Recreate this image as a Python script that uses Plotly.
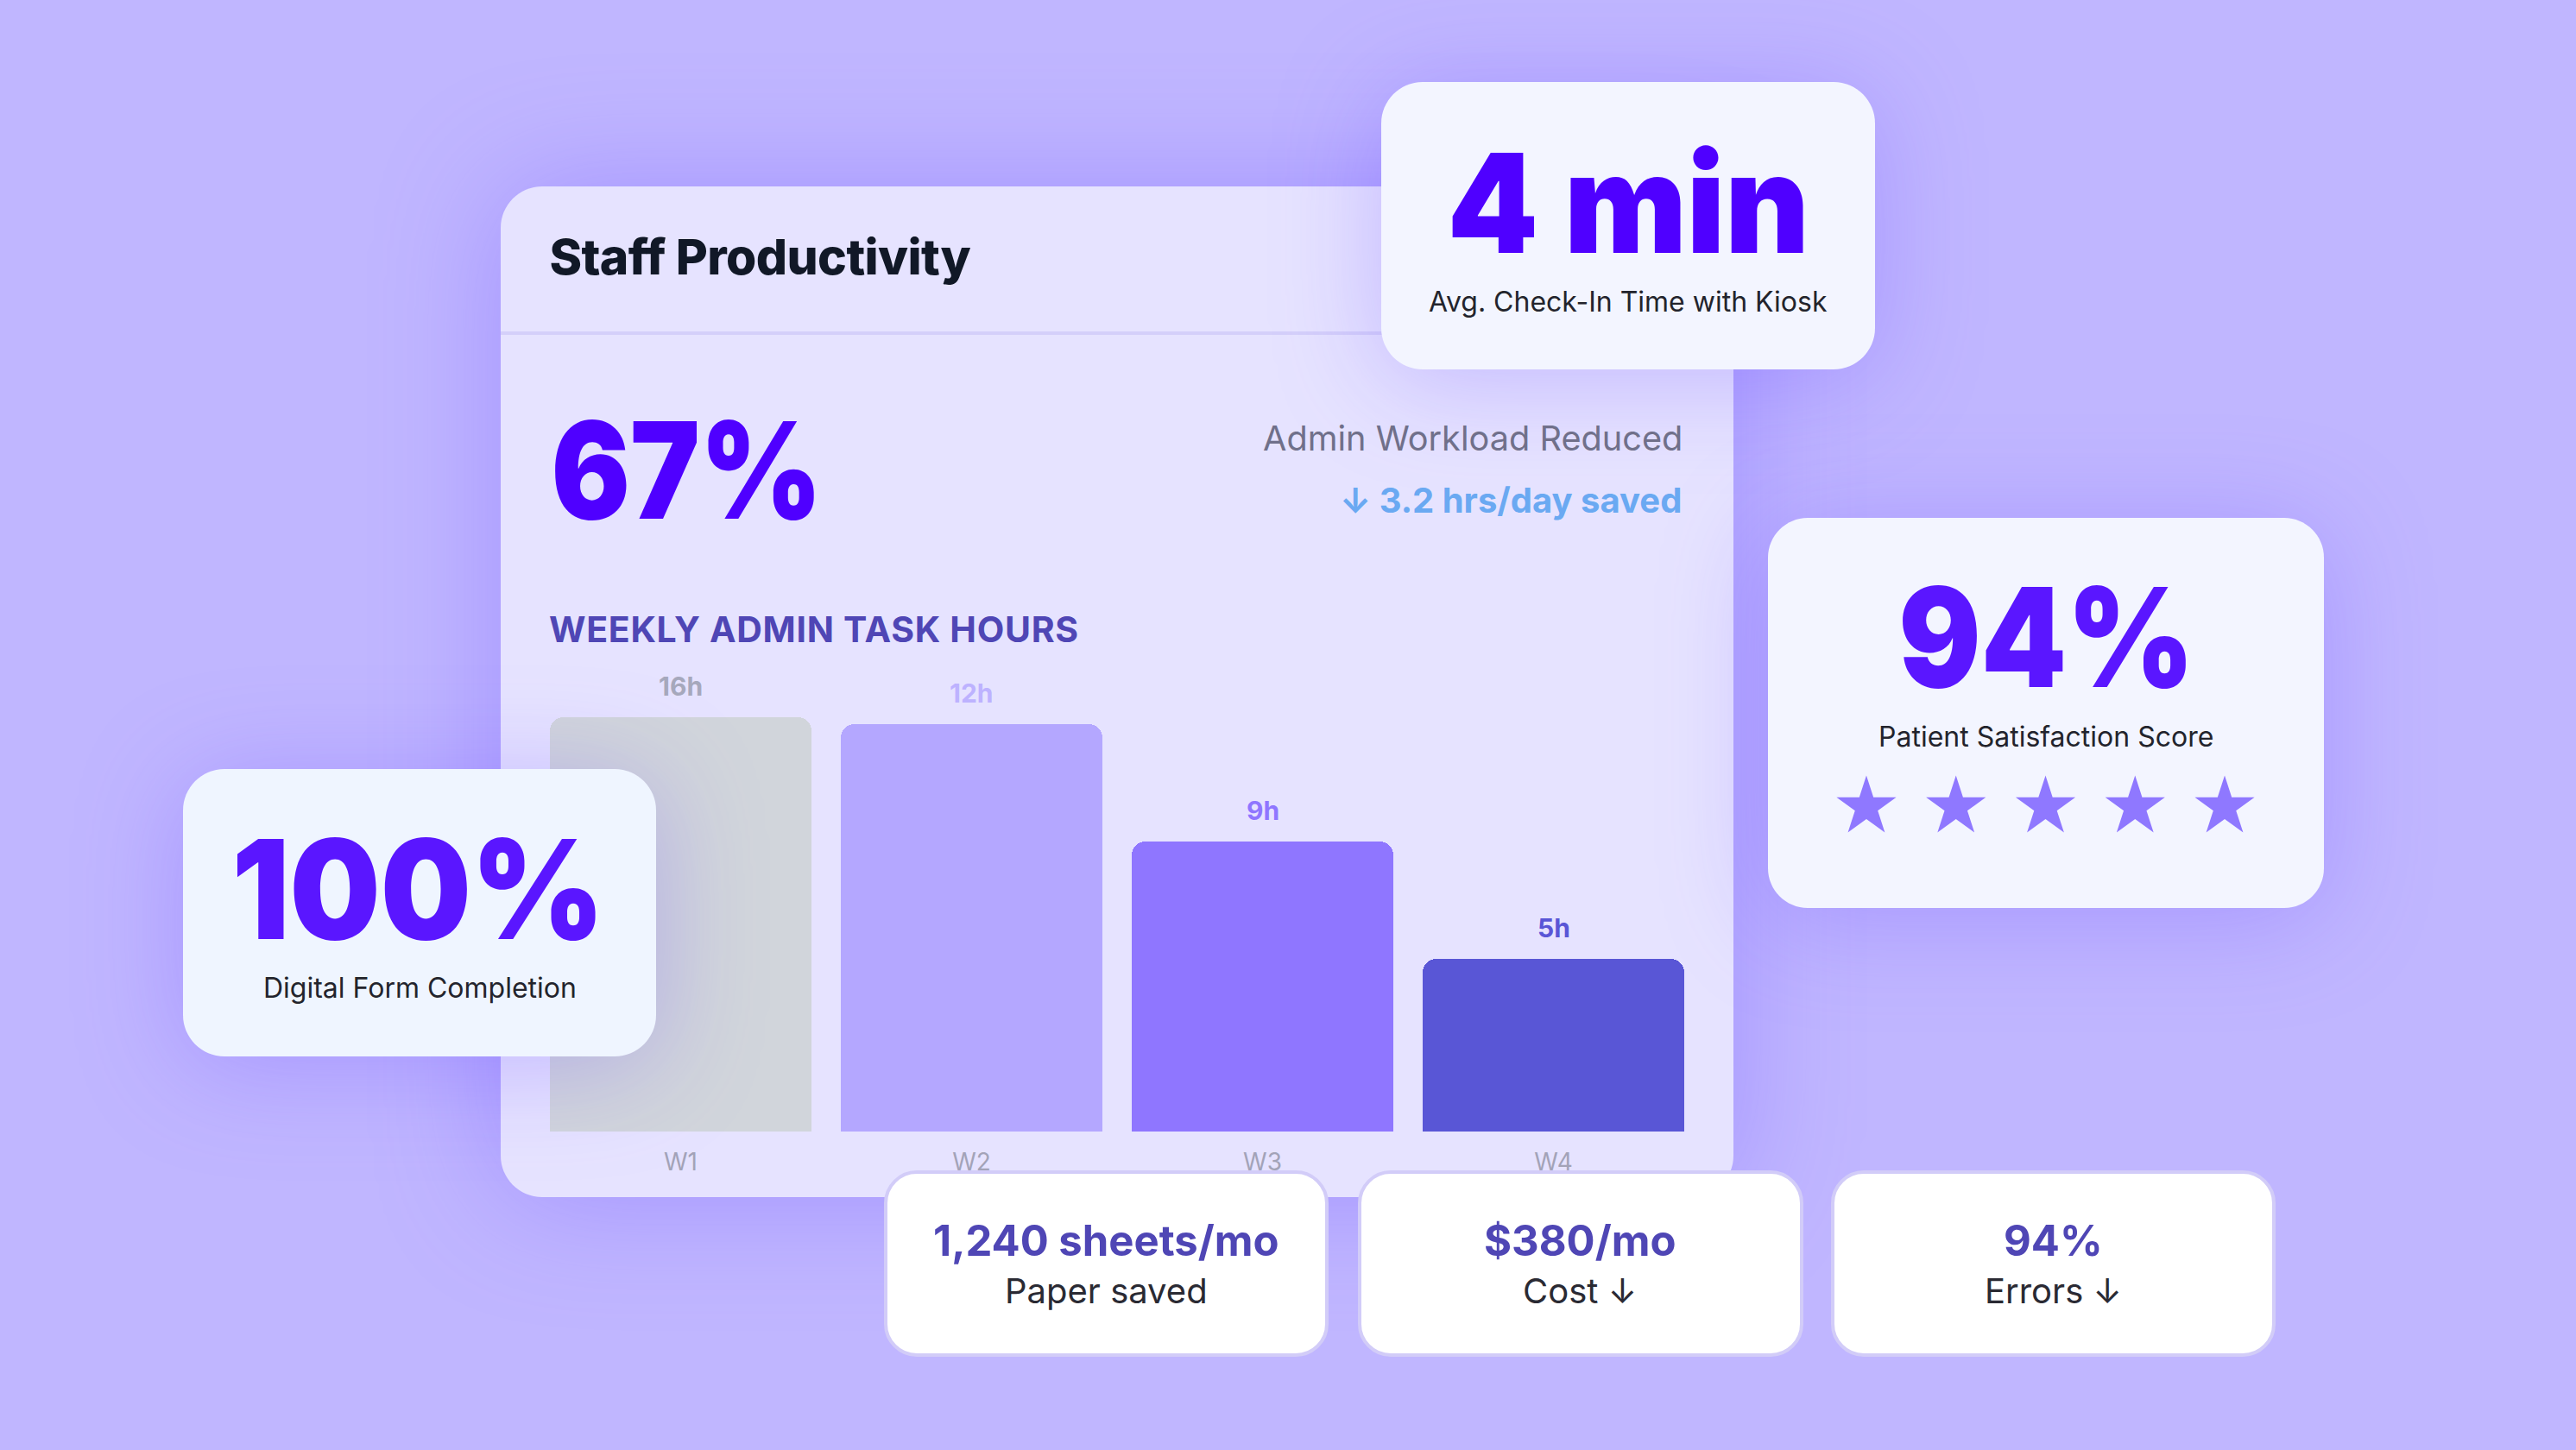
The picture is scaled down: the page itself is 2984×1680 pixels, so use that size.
import plotly.graph_objects as go

W, H = 2984, 1680

# chart data
weeks = ['W1', 'W2', 'W3', 'W4']
hour_labels = ['16h', '12h', '9h', '5h']
bar_heights = [12.2, 12.0, 8.55, 5.1]  # drawn height of each bar, the labels don't scale with them
bar_colors = ['#D1D5DB', '#B4A7FF', '#8F76FF', '#5956D6']
label_colors = ['#A6A8BC', '#BDB2FF', '#8F76FF', '#5956D6']
star_positions = [1, 2, 3, 4, 5]
star_row = [1, 1, 1, 1, 1]

BG = '#C0B6FF'
PANEL = '#E6E3FF'
FONT = 'Inter'


def fx(px):
    return px / W


def fy(px):
    return 1 - px / H


def rounded(x0, y0, x1, y1, r):
    k = r * 0.45
    pts = [
        f'M {fx(x0 + r)},{fy(y0)}', f'L {fx(x1 - r)},{fy(y0)}',
        f'C {fx(x1 - k)},{fy(y0)} {fx(x1)},{fy(y0 + k)} {fx(x1)},{fy(y0 + r)}',
        f'L {fx(x1)},{fy(y1 - r)}',
        f'C {fx(x1)},{fy(y1 - k)} {fx(x1 - k)},{fy(y1)} {fx(x1 - r)},{fy(y1)}',
        f'L {fx(x0 + r)},{fy(y1)}',
        f'C {fx(x0 + k)},{fy(y1)} {fx(x0)},{fy(y1 - k)} {fx(x0)},{fy(y1 - r)}',
        f'L {fx(x0)},{fy(y0 + r)}',
        f'C {fx(x0)},{fy(y0 + k)} {fx(x0 + k)},{fy(y0)} {fx(x0 + r)},{fy(y0)} Z',
    ]
    return ' '.join(pts)


shapes = []


def card(x0, y0, x1, y1, r, fill, layer, line=None):
    shapes.append(dict(
        type='path', xref='paper', yref='paper', layer=layer,
        path=rounded(x0, y0, x1, y1, r), fillcolor=fill,
        line=dict(width=line[1], color=line[0]) if line else dict(width=0)))


# main panel and the cards behind the bars
card(580, 216, 2008, 1387, 48, PANEL, 'below')
shapes.append(dict(type='line', xref='paper', yref='paper', layer='below',
                   x0=fx(580), x1=fx(2008), y0=fy(386), y1=fy(386),
                   line=dict(color='#D4CFFA', width=4)))
card(1600, 95, 2172, 428, 48, '#F3F5FF', 'below')
card(2048, 600, 2692, 1052, 46, '#F3F5FF', 'below')
# these sit on top of the bars and tick labels
card(212, 891, 760, 1224, 48, '#EFF5FF', 'above')
for x0, x1 in [(1026, 1537), (1575, 2087), (2123, 2634)]:
    card(x0, 1358, x1, 1570, 36, '#FFFFFF', 'above', line=('#D2CCF8', 4))

annotations = []
spacing = {}
condense = {}


def text(x, y, s, size, color, weight=400, anchor='center', track=0, squeeze=0):
    annotations.append(dict(
        x=fx(x), y=fy(y), xref='paper', yref='paper', text=s, showarrow=False,
        xanchor=anchor, yanchor='middle',
        font=dict(family=FONT, size=size, color=color, weight=weight)))
    if track:
        spacing[f'{s}|{size}'] = track
    if squeeze:
        condense[f'{s}|{size}'] = squeeze


text(629, 297, 'Staff Productivity', 57, '#111827', 800, 'left', track=-0.6)
text(795, 545, '67%', 156, '#4F00FF', 900, squeeze=0.87)
text(1951, 508, 'Admin Workload Reduced', 39.7, '#70708A', 400, 'right')
text(1950, 579, '↓ 3.2 hrs/day saved', 40, '#6AA9F2', 700, 'right')
text(642, 729, 'WEEKLY ADMIN TASK HOURS', 41, '#4F46B5', 700, 'left', track=0.7)

text(1886, 235, '4 min', 160, '#4F00FF', 900, squeeze=0.94)
text(1886, 349, 'Avg. Check-In Time with Kiosk', 32, '#23242C')
text(484, 1030, '100%', 160, '#5A16FF', 900, squeeze=0.925)
text(486, 1144, 'Digital Form Completion', 32, '#23242C')
text(2370, 738, '94%', 160, '#5A16FF', 900, squeeze=0.885)
text(2370, 853, 'Patient Satisfaction Score', 32, '#23242C')

text(1281, 1437, '1,240 sheets/mo', 49, '#4F46B5', 700)
text(1281, 1495, 'Paper saved', 40, '#2A2A33')
text(1830, 1437, '$380/mo', 49, '#4F46B5', 700)
text(1830, 1495, 'Cost ↓', 40, '#2A2A33')
text(2378, 1437, '94%', 49, '#4F46B5', 700)
text(2378, 1495, 'Errors ↓', 40, '#2A2A33')

# value labels float above each bar
for wk, h, lab, col in zip(weeks, bar_heights, hour_labels, label_colors):
    annotations.append(dict(
        x=wk, y=h, xref='x', yref='y', text=lab, showarrow=False, yanchor='bottom',
        yshift=16, font=dict(family=FONT, size=30, color=col, weight=700)))

fig = go.Figure()
fig.add_trace(go.Bar(
    x=weeks, y=bar_heights, width=0.9, marker=dict(color=bar_colors, cornerradius=16, line=dict(width=0)),
    hoverinfo='skip', showlegend=False))
fig.add_trace(go.Scatter(
    x=star_positions, y=star_row, xaxis='x2', yaxis='y2', mode='markers',
    marker=dict(symbol='star', size=52, color='#8F78FF', line=dict(width=0)),
    hoverinfo='skip', showlegend=False))

fig.update_layout(
    width=W, height=H, autosize=False,
    margin=dict(l=0, r=0, t=0, b=0),
    paper_bgcolor=BG, plot_bgcolor='rgba(0,0,0,0)',
    shapes=shapes, annotations=annotations, bargap=0,
    xaxis=dict(domain=[fx(620), fx(1968)], type='category', range=[-0.5, 3.5],
               showgrid=False, zeroline=False, showline=False, ticks='',
               ticklabelstandoff=16, tickfont=dict(family=FONT, size=28, color='#A3A3B8')),
    yaxis=dict(domain=[fy(1311), fy(791)], range=[0, 13.23], visible=False, fixedrange=True),
    xaxis2=dict(domain=[fx(2369.5 - 259.4), fx(2369.5 + 259.4)], range=[0.5, 5.5], anchor='y2', visible=False),
    yaxis2=dict(domain=[fy(985), fy(885)], range=[0, 2], anchor='x2', visible=False),
)

# plotly has no letter spacing, condensed text or blurred shadow, so they go on the svg afterwards
page_js = """
document.body.style.margin = '0';
var tracks = %s;
var squeezes = %s;
document.querySelectorAll('.annotation-text').forEach(function (el) {
    var key = el.textContent + '|' + parseFloat(el.style.fontSize);
    if (tracks[key]) { el.style.letterSpacing = tracks[key] + 'px'; }
    if (squeezes[key]) {
        el.setAttribute('textLength', el.getComputedTextLength() * squeezes[key]);
        el.setAttribute('lengthAdjust', 'spacingAndGlyphs');
    }
});
var shadows = {
    'rgb(230, 227, 255)': 'drop-shadow(0 0 70px rgba(100,70,255,0.32))',
    'rgb(243, 245, 255)': 'drop-shadow(0 12px 60px rgba(100,70,255,0.28))',
    'rgb(239, 245, 255)': 'drop-shadow(0 12px 60px rgba(100,70,255,0.28))'
};
document.querySelectorAll('.shapelayer path').forEach(function (p) {
    var s = shadows[p.style.fill];
    if (s) { p.style.filter = s; }
});
""" % (str(spacing), str(condense))

fig.write_html('out.html', config=dict(displayModeBar=False), post_script=page_js)
